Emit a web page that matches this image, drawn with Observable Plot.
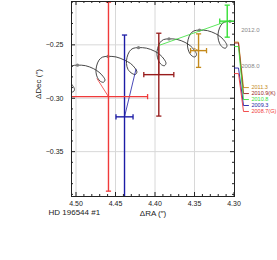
<!DOCTYPE html>
<html><head><meta charset="utf-8">
<script src="https://cdn.jsdelivr.net/npm/d3@7"></script>
<script src="https://cdn.jsdelivr.net/npm/@observablehq/plot@0.6"></script>
<style>body{margin:0;background:#fff}svg{display:block}</style>
</head><body><div id="chart"></div>
<script>
// ---- measurements ----
const epochs = ["2011.3", "2010.9(K)", "2010.8", "2009.3", "2008.7(G)"];
const colors = ["#c48a1c", "#981c1c", "#35e035", "#1c1ca6", "#f03a3a"];
const ra     = [4.3449, 4.3952, 4.3086, 4.4386, 4.4589];
const dec    = [-0.2554, -0.2779, -0.2278, -0.3174, -0.2985];
const raErr  = [0.0101, 0.0190, 0.0095, 0.0108, 0.0495];
const decErr = [0.0157, 0.0388, 0.0150, 0.0766, 0.0885];
// predicted position on the orbit track at each epoch
const onTrackRA  = [4.3510, 4.3952, 4.3956, 4.4240, 4.4735];
const onTrackDec = [-0.2530, -0.2505, -0.2507, -0.2725, -0.2815];
// epoch scale at the right edge
const sideStartDec = [-0.2474, -0.2483, -0.2516, -0.2717, -0.2769];
const sideLabelDec = [-0.2900, -0.2956, -0.3012, -0.3068, -0.3124];
const yearTicks   = ["2012.0", "2008.0"];
const yearTickDec = [-0.2366, -0.2699];

// ---- predicted track (proper motion + parallax loops) ----
const trackRA = [
4.5367,4.5266,4.5164,4.5095,4.5044,4.5019,4.5038,4.5076,4.5114,4.5133,4.5126,4.5095,4.5051,
4.4981,4.4880,4.4778,4.4709,4.4658,4.4633,4.4652,4.4690,4.4728,4.4747,4.4740,4.4709,4.4665,
4.4595,4.4494,4.4392,4.4310,4.4255,4.4229,4.4248,4.4290,4.4342,4.4361,4.4354,4.4323,4.4279,
4.4209,4.4108,4.4006,4.3937,4.3886,4.3861,4.3880,4.3918,4.3956,4.3975,4.3968,4.3937,4.3893,
4.3823,4.3722,4.3620,4.3551,4.3500,4.3475,4.3494,4.3532,4.3570,4.3589,4.3582,4.3551,4.3507,
4.3437,4.3336,4.3234,4.3165,4.3114,4.3089,4.3108,4.3146,4.3184,4.3203,4.3196,4.3165,4.3121,
4.3051,4.2950];
const trackDec = [
-0.2772,-0.2777,-0.2805,-0.2838,-0.2880,-0.2918,-0.2941,-0.2932,-0.2894,-0.2838,-0.2781,-0.2725,-0.2697,
-0.2690,-0.2695,-0.2723,-0.2756,-0.2795,-0.2830,-0.2850,-0.2842,-0.2808,-0.2756,-0.2699,-0.2643,-0.2615,
-0.2608,-0.2613,-0.2641,-0.2674,-0.2716,-0.2754,-0.2777,-0.2768,-0.2730,-0.2674,-0.2617,-0.2561,-0.2533,
-0.2526,-0.2531,-0.2559,-0.2592,-0.2634,-0.2672,-0.2695,-0.2686,-0.2648,-0.2592,-0.2535,-0.2479,-0.2451,
-0.2444,-0.2449,-0.2477,-0.2510,-0.2552,-0.2590,-0.2613,-0.2604,-0.2566,-0.2510,-0.2453,-0.2397,-0.2369,
-0.2362,-0.2367,-0.2395,-0.2428,-0.2470,-0.2508,-0.2531,-0.2522,-0.2484,-0.2428,-0.2371,-0.2315,-0.2287,
-0.2280,-0.2285];
const yearDotRA  = [4.5367, 4.4981, 4.4595, 4.4209, 4.3823, 4.3437, 4.3051];
const yearDotDec = [-0.2772, -0.2690, -0.2608, -0.2526, -0.2444, -0.2362, -0.2280];

// ---- axis ticks ----
const xMajor = [4.50, 4.45, 4.40, 4.35, 4.30];
const xMinor = [4.49,4.48,4.47,4.46,4.44,4.43,4.42,4.41,4.39,4.38,4.37,4.36,4.34,4.33,4.32,4.31];
const yMajor = [-0.25, -0.30, -0.35];
const yMinor = [-0.21,-0.22,-0.23,-0.24,-0.26,-0.27,-0.28,-0.29,-0.31,-0.32,-0.33,-0.34,-0.36,-0.37,-0.38,-0.39];

// ---- layout ----
const W = 277, H = 260, ML = 71, MR = 43, MT = 1, MB = 64;
const xDomain = [4.5057, 4.2994], yDomain = [-0.3920, -0.2094];
const xs = d3.scaleLinear(xDomain, [ML, W - MR]);
const FW = W - ML - MR, FH = H - MT - MB;

const meas = epochs.map((e, i) => ({
  e, c: colors[i], x: ra[i], y: dec[i], ex: raErr[i], ey: decErr[i],
  tx: onTrackRA[i], ty: onTrackDec[i], sy: sideStartDec[i], ly: sideLabelDec[i]
}));
const track = trackRA.map((x, i) => ({x, y: trackDec[i]}));
const yearDots = yearDotRA.map((x, i) => ({x, y: yearDotDec[i]}));
const sideLines = meas.flatMap(d => [
  {e: d.e, c: d.c, x: xs.invert(W - MR), y: d.sy},
  {e: d.e, c: d.c, x: xs.invert(W - MR + 4), y: d.sy},
  {e: d.e, c: d.c, x: xs.invert(W - MR + 9), y: d.ly},
  {e: d.e, c: d.c, x: xs.invert(W - MR + 14), y: d.ly}
]);

const hcap = {draw(ctx, size) { const r = Math.sqrt(size / Math.PI); ctx.moveTo(-r, 0); ctx.lineTo(r, 0); }};
const vcap = {draw(ctx, size) { const r = Math.sqrt(size / Math.PI); ctx.moveTo(0, -r); ctx.lineTo(0, r); }};
const fmtY = d => d.toFixed(2).replace("-", "\u2212");

const chart = Plot.plot({
  width: W, height: H,
  marginLeft: ML, marginRight: MR, marginTop: MT, marginBottom: MB,
  x: {domain: xDomain},
  y: {domain: yDomain},
  color: {type: "identity"},
  style: {fontFamily: "'Liberation Sans', Arial, sans-serif", fontSize: "7px", background: "#fff", color: "#222"},
  marks: [
    Plot.ruleX(xMajor.slice(0, 4), {stroke: "#d8d8d8", strokeWidth: 1}),
    Plot.ruleY(yMajor, {stroke: "#d8d8d8", strokeWidth: 1}),
    Plot.line(track, {x: "x", y: "y", curve: "catmull-rom", stroke: "#333", strokeWidth: 0.9, clip: true}),
    Plot.dot(yearDots, {x: "x", y: "y", r: 1.6, fill: "#808080", clip: true}),
    Plot.link(meas, {x1: "tx", y1: "ty", x2: "x", y2: "y", stroke: "c", strokeWidth: 0.8, clip: true}),
    Plot.link(meas, {x1: "x", x2: "x", y1: d => d.y - d.ey, y2: d => d.y + d.ey, stroke: "c", strokeWidth: 1.4, clip: true}),
    Plot.link(meas, {y1: "y", y2: "y", x1: d => d.x - d.ex, x2: d => d.x + d.ex, stroke: "c", strokeWidth: 1.4, clip: true}),
    Plot.dot(meas, {x: "x", y: d => d.y - d.ey, symbol: hcap, r: 2.6, stroke: "c", strokeWidth: 1.3, fill: "none", clip: true}),
    Plot.dot(meas, {x: "x", y: d => d.y + d.ey, symbol: hcap, r: 2.6, stroke: "c", strokeWidth: 1.3, fill: "none", clip: true}),
    Plot.dot(meas, {x: d => d.x - d.ex, y: "y", symbol: vcap, r: 2.6, stroke: "c", strokeWidth: 1.3, fill: "none", clip: true}),
    Plot.dot(meas, {x: d => d.x + d.ex, y: "y", symbol: vcap, r: 2.6, stroke: "c", strokeWidth: 1.3, fill: "none", clip: true}),
    Plot.frame({stroke: "#222", strokeWidth: 1}),
    Plot.tickY(yMajor, {y: d => d, insetRight: FW - 4, stroke: "#222"}),
    Plot.tickY(yMajor, {y: d => d, insetLeft: FW - 4, stroke: "#222"}),
    Plot.tickY(yMinor, {y: d => d, insetRight: FW - 2, stroke: "#222"}),
    Plot.tickY(yMinor, {y: d => d, insetLeft: FW - 2, stroke: "#222"}),
    Plot.tickX(xMajor, {x: d => d, insetTop: FH - 4, stroke: "#222"}),
    Plot.tickX(xMajor, {x: d => d, insetBottom: FH - 4, stroke: "#222"}),
    Plot.tickX(xMinor, {x: d => d, insetTop: FH - 2, stroke: "#222"}),
    Plot.tickX(xMinor, {x: d => d, insetBottom: FH - 2, stroke: "#222"}),
    Plot.axisY({ticks: yMajor, tickSize: 0, tickPadding: 8, tickFormat: fmtY, label: null, fontSize: 7}),
    Plot.axisX({ticks: xMajor, tickSize: 0, tickPadding: 5, tickFormat: d => d.toFixed(2), label: null, fontSize: 7}),
    Plot.text(["\u0394Dec (\u2033)"], {frameAnchor: "left", dx: -33, rotate: -90, fontSize: 8, fill: "#222"}),
    Plot.text(["\u0394RA (\u2033)"], {frameAnchor: "bottom", dy: 19, fontSize: 8, fill: "#222"}),
    Plot.text(["HD 196544 #1"], {frameAnchor: "bottom-left", dx: -23, dy: 18, textAnchor: "start", fontSize: 8, fill: "#222"}),
    Plot.line(sideLines, {x: "x", y: "y", z: "e", stroke: "c", strokeWidth: 0.9}),
    Plot.text(meas, {frameAnchor: "right", y: "ly", dx: 17, text: "e", fill: "c", textAnchor: "start", fontSize: 5.5}),
    Plot.text(yearTicks, {frameAnchor: "right", y: (d, i) => yearTickDec[i], text: d => d, dx: 25, fill: "#888", fontSize: 6})
  ]
});
document.getElementById("chart").appendChild(chart);
</script>
</body></html>
